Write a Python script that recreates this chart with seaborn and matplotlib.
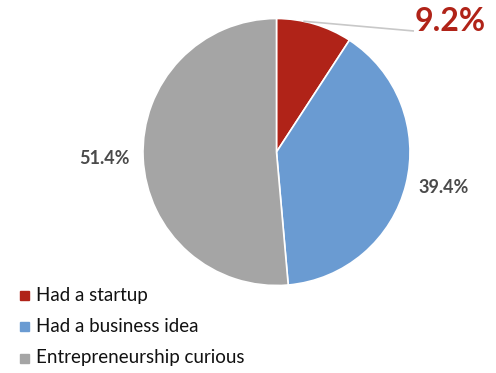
import matplotlib
matplotlib.use("Agg")
import matplotlib.pyplot as plt
import seaborn as sns
import numpy as np

sns.set_theme(style="white")
plt.rcParams["font.family"] = ["Lato", "DejaVu Sans"]

categories = ["Had a startup", "Had a business idea", "Entrepreneurship curious"]
shares = [9.2, 39.4, 51.4]
colors = ["#B02318", "#6A9BD2", "#A5A5A5"]

W, H = 496, 373
cx, cy, R = 276.5, 152.0, 133.5  # pie centre / radius in pixels

fig = plt.figure(figsize=(W / 100, H / 100), dpi=100)
ax = fig.add_axes([0, 0, 1, 1])

labels = [f"{v:.1f}%" for v in shares]
wedges, texts = ax.pie(
    shares, colors=colors, startangle=90, counterclock=False,
    labels=["", labels[1], labels[2]], labeldistance=1.1,
    wedgeprops=dict(edgecolor="white", linewidth=1.2),
    textprops=dict(fontsize=13, fontweight="bold", color="#4A4A4A"),
    frame=True,
)
ax.set_xlim(-cx / R, (W - cx) / R)
ax.set_ylim(-(H - cy) / R, cy / R)
ax.set_aspect("equal")
ax.axis("off")

# Highlighted startup share with leader line
w0 = wedges[0]
theta = np.deg2rad(w0.theta1 + (w0.theta2 - w0.theta1) * 0.65)
x0, y0 = np.cos(theta), np.sin(theta)
tx, ty = (414 - cx) / R, (cy - 31) / R
ax.plot([x0, tx], [y0, ty], color="#C8C8C8", lw=1.2, solid_capstyle="butt")
ax.text((450 - cx) / R, (cy - 21) / R, labels[0], color="#B02318",
        fontsize=23, fontweight="bold", ha="center", va="center")

# Legend
for i, (name, c) in enumerate(zip(categories, colors)):
    y = 1 - (295 + 31.5 * i) / H
    fig.patches.append(plt.Rectangle((20 / W, y - 4.5 / H), 9 / W, 9 / H,
                                     transform=fig.transFigure, color=c))
    fig.text(36 / W, y, name, fontsize=13.5, color="#111111", va="center", ha="left")

fig.savefig("out.png", dpi=100)
